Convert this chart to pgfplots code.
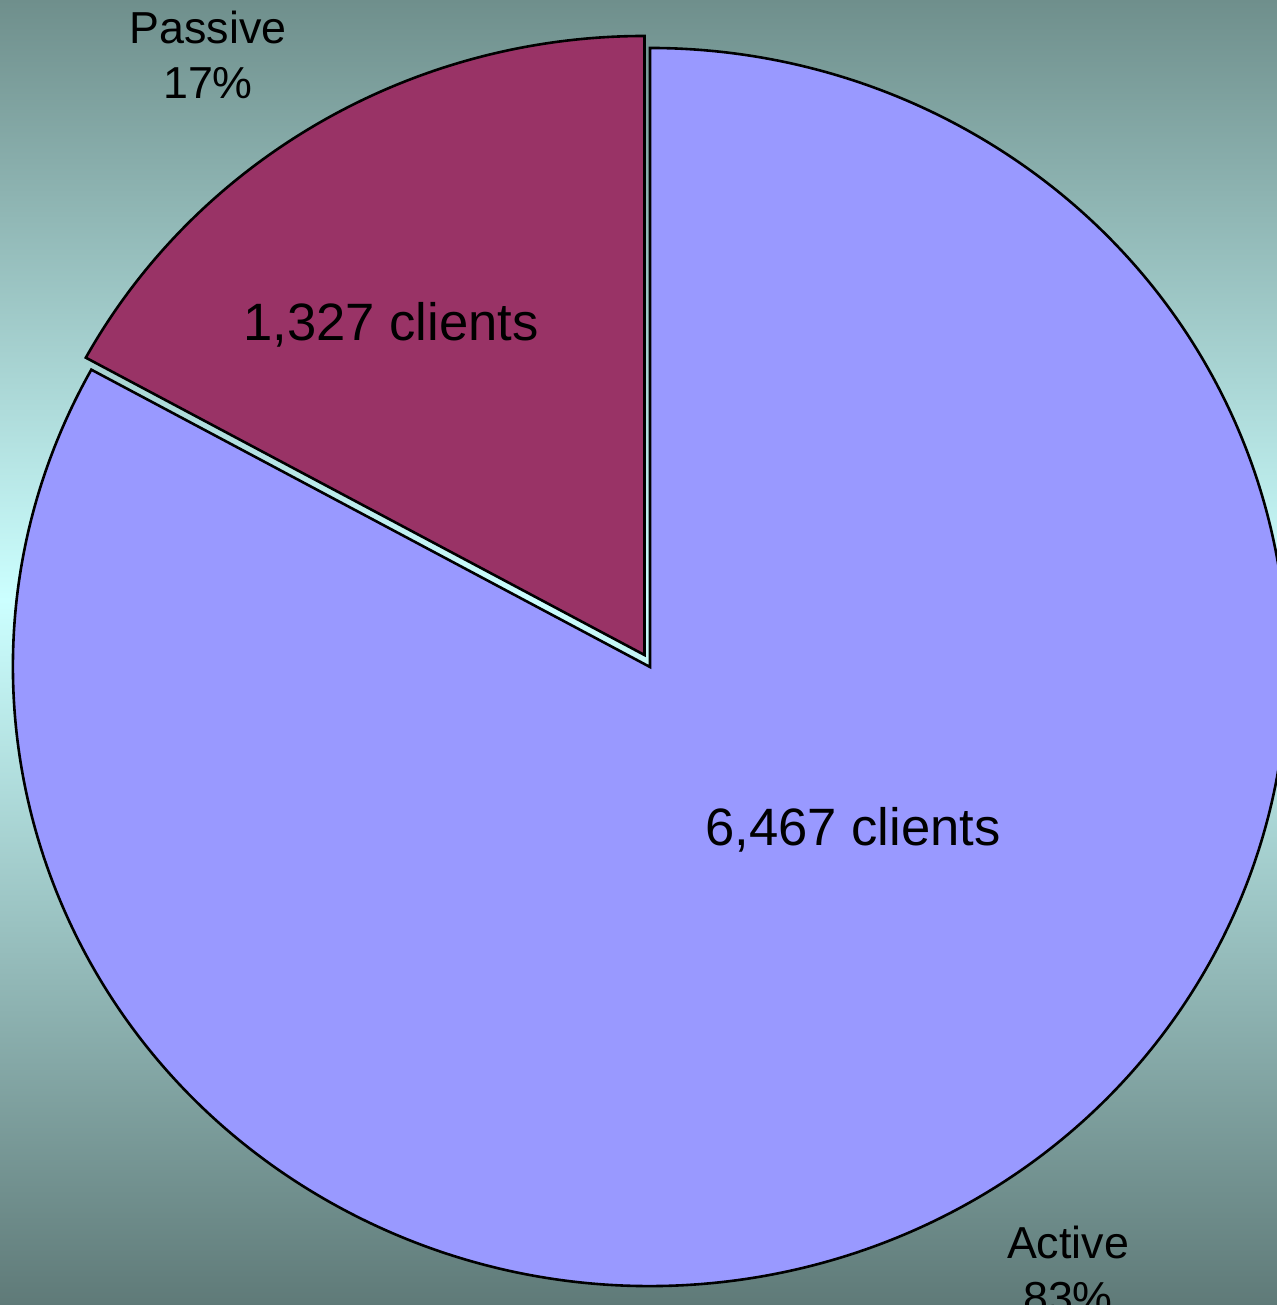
\documentclass[border=0pt]{standalone}
\usepackage{pgfplots}
\pgfplotsset{compat=1.18}
\usepackage{fontspec}
\setmainfont{Liberation Sans}
\definecolor{bgtop}{RGB}{111,143,140}
\definecolor{bgmid}{RGB}{204,255,255}
\definecolor{bgbot}{RGB}{95,122,120}
\definecolor{activec}{RGB}{153,153,255}
\definecolor{passivec}{RGB}{153,51,102}
\pgfdeclareverticalshading{bgshade}{100bp}{color(0bp)=(bgbot); color(25bp)=(bgbot); color(52bp)=(bgmid); color(75bp)=(bgtop); color(100bp)=(bgtop)}
\begin{document}
\begin{tikzpicture}
\useasboundingbox (0,0) rectangle (638.5pt,652.5pt);
\clip (0,0) rectangle (638.5pt,652.5pt);
\shade[shading=bgshade] (0,0) rectangle (638.5pt,652.5pt);
\def\vActive{6467}
\def\vPassive{1327}
\pgfmathsetmacro\angP{\vPassive/(\vActive+\vPassive)*360}
\pgfmathsetmacro\angE{90+\angP}
\begin{axis}[at={(0,0)}, anchor=south west, scale only axis,
  width=638.5pt, height=652.5pt,
  xmin=0, xmax=1277, ymin=0, ymax=1305,
  axis lines=none, clip=false]
\addplot[draw=none] coordinates {(0,0) (1277,1305)};
% Active slice
\filldraw[fill=activec, draw=black, line width=1.3pt]
  (axis cs:650,638) -- (axis cs:{650+637*cos(\angE)},{638+619*sin(\angE)})
  arc[start angle=\angE, end angle=450, x radius=318.5pt, y radius=309.5pt] -- cycle;
% Passive slice (exploded)
\filldraw[fill=passivec, draw=black, line width=1.3pt]
  (axis cs:644.5,650) -- (axis cs:644.5,1269)
  arc[start angle=90, end angle=\angE, x radius=318.5pt, y radius=309.5pt] -- cycle;
\node[font=\fontsize{26.3}{31}\selectfont] at (axis cs:391,980) {1,327 clients};
\node[font=\fontsize{26.3}{31}\selectfont] at (axis cs:853,475) {6,467 clients};
\node[font=\fontsize{22.4}{27.5}\selectfont, align=center] at (axis cs:208,1250) {Passive\\17\%};
\node[font=\fontsize{22.4}{27.5}\selectfont, align=center] at (axis cs:1068,35) {Active\\83\%};
\end{axis}
\end{tikzpicture}
\end{document}
